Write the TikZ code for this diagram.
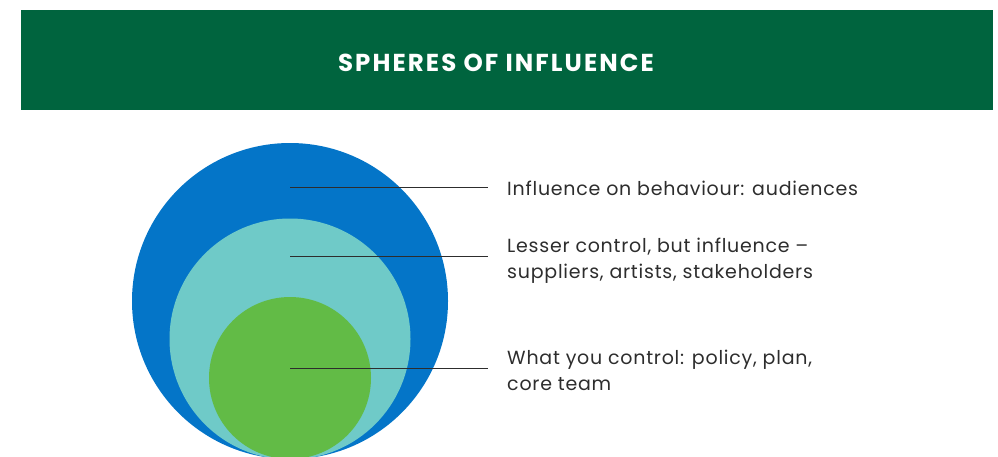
\documentclass[tikz,border=0pt]{standalone}
\usepackage{fontspec}
\setmainfont{Poppins}
\definecolor{hdrgreen}{RGB}{0,100,62}
\definecolor{outerblue}{RGB}{4,117,200}
\definecolor{midteal}{RGB}{111,202,200}
\definecolor{innergreen}{RGB}{98,187,70}
\definecolor{txtgray}{RGB}{45,45,45}
\tikzset{
  sphere/.style={circle, inner sep=0pt, minimum size=#1},
  leader/.style={draw=txtgray, line width=0.9pt},
  label/.style={anchor=base west, inner sep=0pt, align=left, text=txtgray,
     font=\fontsize{19}{26}\selectfont\addfontfeature{LetterSpace=4}},
}
\begin{document}
\begin{tikzpicture}[x=1pt,y=-1pt]
\useasboundingbox (0,0) rectangle (998,456);
\node[fill=hdrgreen, minimum width=972pt, minimum height=100pt, inner sep=0pt, anchor=north west] (hdr) at (21,10) {};
\node[text=white, anchor=base, inner sep=0pt, font=\fontsize{24.5}{28}\selectfont\bfseries\addfontfeature{LetterSpace=8.5}] (title) at (496,71) {SPHERES OF INFLUENCE};
\node[sphere=316pt, fill=outerblue] (outer) at (290,301) {};
\node[sphere=241pt, fill=midteal] (mid) at (290,339) {};
\node[sphere=162pt, fill=innergreen] (inner) at (290,378) {};
\coordinate (s1) at (290,187);
\coordinate (e1) at (488,187);
\coordinate (s2) at (290,256);
\coordinate (e2) at (488,256);
\coordinate (s3) at (290,368);
\coordinate (e3) at (488,368);
\draw[leader] (s1) -- (e1);
\draw[leader] (s2) -- (e2);
\draw[leader] (s3) -- (e3);
\node[label] (t1) at (507,195) {Influence on behaviour: audiences};
\node[label] (t2) at (507,278) {Lesser control, but influence –\\suppliers, artists, stakeholders};
\node[label] (t3) at (507,390) {What you control: policy, plan,\\core team};
\end{tikzpicture}
\end{document}
